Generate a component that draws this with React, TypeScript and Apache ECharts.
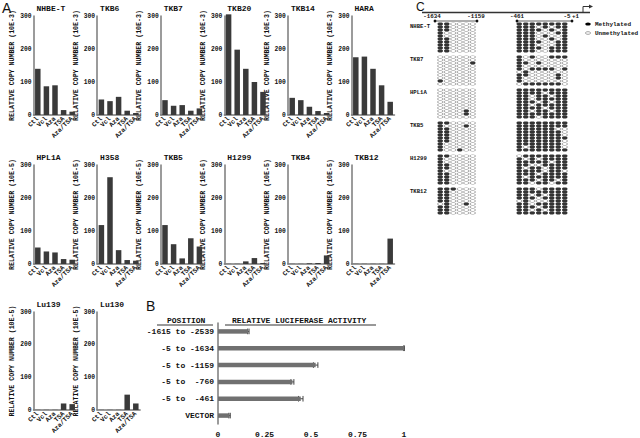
import React, { useEffect, useRef } from "react";
import * as echarts from "echarts";

// ---------- Panel A data ----------
const CATEGORIES = ["Ctl", "Vcl", "Aza", "TSA", "Aza/TSA"];
const NHBE_T = [140, 87, 90, 15, 10];
const TKB6 = [47, 42, 55, 13, 6];
const TKB7 = [45, 28, 30, 13, 20];
const TKB20 = [305, 198, 140, 100, 70];
const TKB14 = [52, 45, 25, 12, 6];
const HARA = [175, 177, 140, 90, 40];
const HPL1A = [50, 38, 35, 15, 13];
const H358 = [118, 263, 42, 12, 10];
const TKB5 = [118, 60, 17, 78, 53];
const H1299 = [0.5, 0.5, 8, 18, 3];
const TKB4 = [0.5, 0.5, 2, 3, 26];
const TKB12 = [0.5, 0.5, 0.5, 0.5, 77];
const LU139 = [0.5, 0.5, 0.5, 20, 18];
const LU130 = [0.5, 0.5, 0.5, 47, 20];
const CELL_NAMES = ["NHBE-T", "TKB6", "TKB7", "TKB20", "TKB14", "HARA", "HPL1A", "H358", "TKB5", "H1299", "TKB4", "TKB12", "Lu139", "Lu130"];
const CELL_UNITS = ["10E-3", "10E-3", "10E-3", "10E-3", "10E-3", "10E-3", "10E-5", "10E-5", "10E-5", "10E-6", "10E-5", "10E-5", "10E-5", "10E-5"];
const CELL_VALUES = [NHBE_T, TKB6, TKB7, TKB20, TKB14, HARA, HPL1A, H358, TKB5, H1299, TKB4, TKB12, LU139, LU130];
const COPY_MAX = 300;
const COPY_STEP = 100;

// ---------- Panel B data ----------
const POSITIONS = ["-1615 to -2539", "-5 to -1634", "-5 to -1159", "-5 to  -760", "-5 to  -461", "VECTOR"];
const LUCIFERASE = [0.163, 1.0, 0.525, 0.4, 0.445, 0.062];
const LUC_ERR = [0.004, 0.002, 0.012, 0.008, 0.012, 0.004];

// ---------- Panel C data ----------
const METH_SAMPLES = ["NHBE-T", "TKB7", "HPL1A", "TKB5", "H1299", "TKB12"];
const METH_LEFT = [
  ["110000", "110000", "110000", "100000", "100000", "110000", "110000", "110000", "110000", "110000"],
  ["000000", "000000", "000001", "000000", "000000", "000000", "000000", "000000", "100000", "000000"],
  ["000000", "000000", "000000", "000000", "000000", "000000", "000000", "000010", "000010", "000000"],
  ["110000", "100010", "110000", "110000", "110000", "110000", "110000", "100000", "100000", "100100"],
  ["110000", "100000", "100000", "110000", "110000", "100000", "110000", "110000", "110000", "110000"],
  ["111000", "110000", "110000", "110000", "110000", "010010", "110000", "110000", "110000"],
];
const METH_RIGHT = [
  ["11111111", "11101011", "11110101", "11100011", "11101001", "11100101", "11110011", "11100011", "11110111", "11100111"],
  ["10100111", "10000000", "11010000", "10000000", "10111101", "01000000", "11000010", "10000010", "10000000", "01111110"],
  ["11111111", "11110111", "11011011", "11011111", "11101011", "11011111", "11110111", "11011011", "11111111", "11101111"],
  ["11111111", "11111111", "11111100", "11111110", "11111110", "11111111", "11111110", "11111110", "10111110", "11111111"],
  ["01111111", "10101111", "11111011", "11001111", "10110111", "11110110", "11101111", "10111111", "11101101", "11011011"],
  ["11101111", "11111111", "11010111", "11101111", "01000111", "11011111", "11101111", "11010111", "11111111"],
];
const PROMOTER_MARKS = ["-1634", "-1159", "-461", "-5", "+1"];

const MONO = "Liberation Mono";
const SANS = "Liberation Sans";
const INK = "#111111";

function buildOption() {
  const grid: any[] = [];
  const xAxis: any[] = [];
  const yAxis: any[] = [];
  const series: any[] = [];
  const graphic: any[] = [];

  const ROW_TOP = [16, 165, 312];
  const ROW_H = [99, 99, 98];
  const COL_X0 = 33.5;
  const COL_STEP = 63.6;
  const GW = 43;

  CELL_NAMES.forEach((name, k) => {
    const r = Math.floor(k / 6);
    const c = k % 6;
    const left = COL_X0 + COL_STEP * c;
    grid.push({ left, top: ROW_TOP[r], width: GW, height: ROW_H[r] });
    xAxis.push({
      gridIndex: k,
      type: "category",
      data: CATEGORIES,
      axisLine: { show: true, lineStyle: { color: "#7a7a7a", width: 1.5 } },
      axisTick: { show: false },
      axisLabel: {
        interval: 0,
        rotate: 45,
        margin: 3,
        fontSize: 6.5,
        fontFamily: MONO,
        fontWeight: "bold",
        color: INK,
      },
    });
    yAxis.push({
      gridIndex: k,
      type: "value",
      min: 0,
      max: COPY_MAX,
      interval: COPY_STEP,
      axisLine: { show: true, lineStyle: { color: "#7a7a7a", width: 1.5 } },
      axisTick: { show: false },
      splitLine: { show: false },
      axisLabel: { margin: 2, fontSize: 6.3, fontFamily: MONO, fontWeight: "bold", color: INK },
      name: `RELATIVE COPY NUMBER (${CELL_UNITS[k]})`,
      nameLocation: "middle",
      nameRotate: 90,
      nameGap: 14,
      nameTextStyle: { fontSize: 6.6, fontFamily: MONO, fontWeight: "bold", color: INK },
    });
    series.push({
      type: "bar",
      xAxisIndex: k,
      yAxisIndex: k,
      data: CELL_VALUES[k],
      barWidth: 5.5,
      clip: false,
      itemStyle: { color: "#3a3a3a" },
    });
    graphic.push({
      type: "text",
      left: left + 3,
      top: ROW_TOP[r] - 12,
      style: { text: name, fontSize: 8, fontFamily: MONO, fontWeight: "bold", fill: INK },
    });
  });

  // ---------- Panel B ----------
  const bi = grid.length;
  grid.push({ left: 218, top: 323, width: 186, height: 102 });
  xAxis.push({
    gridIndex: bi,
    type: "value",
    min: 0,
    max: 1,
    interval: 0.25,
    axisLine: { show: false },
    axisTick: { show: false },
    splitLine: { show: false },
    axisLabel: { margin: 6, fontSize: 8, fontFamily: MONO, fontWeight: "bold", color: INK },
  });
  yAxis.push({
    gridIndex: bi,
    type: "category",
    inverse: true,
    data: POSITIONS,
    axisLine: { show: true, lineStyle: { color: "#7a7a7a", width: 1.5 } },
    axisTick: { show: false },
    axisLabel: { margin: 4, fontSize: 8, fontFamily: MONO, fontWeight: "bold", color: INK },
  });
  series.push({
    type: "bar",
    xAxisIndex: bi,
    yAxisIndex: bi,
    data: LUCIFERASE,
    barWidth: 4.5,
    itemStyle: { color: "#707070" },
  });
  series.push({
    type: "custom",
    xAxisIndex: bi,
    yAxisIndex: bi,
    data: LUCIFERASE.map((v, i) => [v, i, LUC_ERR[i]]),
    encode: { x: 0, y: 1 },
    renderItem: (params: any, api: any) => {
      const v = api.value(0);
      const c = api.value(1);
      const e = api.value(2);
      const a = api.coord([v - e, c]);
      const b = api.coord([v + e, c]);
      const h = 2.8;
      const st = { stroke: "#444", lineWidth: 1 };
      return {
        type: "group",
        children: [
          { type: "line", shape: { x1: a[0], y1: a[1], x2: b[0], y2: b[1] }, style: st },
          { type: "line", shape: { x1: a[0], y1: a[1] - h, x2: a[0], y2: a[1] + h }, style: st },
          { type: "line", shape: { x1: b[0], y1: b[1] - h, x2: b[0], y2: b[1] + h }, style: st },
        ],
      };
    },
  });
  graphic.push(
    { type: "text", left: 167, top: 316, style: { text: "POSITION", fontSize: 8, fontFamily: MONO, fontWeight: "bold", fill: INK } },
    { type: "line", shape: { x1: 157, y1: 325, x2: 213, y2: 325 }, style: { stroke: "#333", lineWidth: 1 } },
    { type: "text", left: 232, top: 316, style: { text: "RELATIVE LUCIFERASE ACTIVITY", fontSize: 8, fontFamily: MONO, fontWeight: "bold", fill: INK } },
    { type: "line", shape: { x1: 225, y1: 325, x2: 376, y2: 325 }, style: { stroke: "#333", lineWidth: 1 } }
  );

  // ---------- Panel C ----------
  const ROW_PX = 3;
  const C_TOP = 22.5;
  const SAMPLE_STRIDE = 11;
  const meth: number[][][] = [[], []];
  const unmeth: number[][][] = [[], []];
  let maxRow = 0;
  [METH_LEFT, METH_RIGHT].forEach((blocks, side) => {
    blocks.forEach((rows, s) => {
      rows.forEach((str, r) => {
        const y = s * SAMPLE_STRIDE + r;
        maxRow = Math.max(maxRow, y);
        str.split("").forEach((ch, col) => {
          (ch === "1" ? meth[side] : unmeth[side]).push([col, y]);
        });
      });
    });
  });
  const blockDefs = [
    { left: 437, cols: 6 },
    { left: 516, cols: 8 },
  ];
  blockDefs.forEach((bd, side) => {
    const gi = grid.length;
    grid.push({ left: bd.left, top: C_TOP, width: bd.cols * 6.5, height: (maxRow + 1) * ROW_PX });
    xAxis.push({ gridIndex: gi, type: "value", min: -0.5, max: bd.cols - 0.5, show: false });
    yAxis.push({ gridIndex: gi, type: "value", min: -0.5, max: maxRow + 0.5, inverse: true, show: false });
    series.push({
      type: "scatter",
      xAxisIndex: gi,
      yAxisIndex: gi,
      data: unmeth[side],
      symbol: "circle",
      symbolSize: [5.2, 2.6],
      itemStyle: { color: "#fff", borderColor: "#8a8a8a", borderWidth: 0.8 },
    });
    series.push({
      type: "scatter",
      xAxisIndex: gi,
      yAxisIndex: gi,
      data: meth[side],
      symbol: "circle",
      symbolSize: [5.6, 3.2],
      itemStyle: { color: "#000" },
    });
  });
  METH_SAMPLES.forEach((s, i) => {
    graphic.push({
      type: "text",
      left: 410,
      top: C_TOP + i * SAMPLE_STRIDE * ROW_PX + 1,
      style: { text: s, fontSize: 5.6, fontFamily: MONO, fontWeight: "bold", fill: INK },
    });
  });
  const markX = [432, 476, 517, 567, 575.5];
  PROMOTER_MARKS.forEach((m, i) => {
    graphic.push({
      type: "text",
      x: markX[i],
      y: 16.8,
      style: { text: m, fontSize: 5.8, fontFamily: MONO, fontWeight: "bold", fill: INK, align: "center", verticalAlign: "middle" },
    });
  });
  graphic.push(
    { type: "line", shape: { x1: 422, y1: 12.5, x2: 590, y2: 12.5 }, style: { stroke: "#333", lineWidth: 1.5 } },
    { type: "polyline", shape: { points: [[583, 12.5], [583, 6.5], [590, 6.5]] }, style: { stroke: "#333", lineWidth: 1, fill: null } },
    { type: "polygon", shape: { points: [[589, 4.5], [593, 6.5], [589, 8.5]] }, style: { fill: "#333" } },
    { type: "line", shape: { x1: 435, y1: 21, x2: 477, y2: 21 }, style: { stroke: "#333", lineWidth: 0.8 } },
    { type: "circle", shape: { cx: 435, cy: 21, r: 1.4 }, style: { fill: "#111" } },
    { type: "circle", shape: { cx: 477, cy: 21, r: 1.4 }, style: { fill: "#111" } },
    { type: "line", shape: { x1: 517, y1: 21, x2: 572, y2: 21 }, style: { stroke: "#333", lineWidth: 0.8 } },
    { type: "circle", shape: { cx: 517, cy: 21, r: 1.4 }, style: { fill: "#111" } },
    { type: "circle", shape: { cx: 572, cy: 21, r: 1.4 }, style: { fill: "#111" } },
    { type: "ellipse", shape: { cx: 588, cy: 24, rx: 2.8, ry: 1.6 }, style: { fill: "#000" } },
    { type: "text", left: 595, top: 21, style: { text: "Methylated", fontSize: 6, fontFamily: MONO, fontWeight: "bold", fill: INK } },
    { type: "ellipse", shape: { cx: 588, cy: 33, rx: 2.6, ry: 1.3 }, style: { fill: "#fff", stroke: "#8a8a8a", lineWidth: 0.8 } },
    { type: "text", left: 595, top: 30, style: { text: "Unmethylated", fontSize: 6, fontFamily: MONO, fontWeight: "bold", fill: INK } }
  );

  // panel letters
  graphic.push(
    { type: "text", left: 2, top: 1, style: { text: "A", fontSize: 14, fontFamily: SANS, fill: INK } },
    { type: "text", left: 146, top: 299, style: { text: "B", fontSize: 14, fontFamily: SANS, fill: INK } },
    { type: "text", left: 416, top: 1, style: { text: "C", fontSize: 12, fontFamily: SANS, fill: INK } }
  );

  return {
    animation: false,
    backgroundColor: "#fff",
    grid,
    xAxis,
    yAxis,
    series,
    graphic,
  };
}

export default function App() {
  const ref = useRef<HTMLDivElement>(null);
  useEffect(() => {
    if (!ref.current) return;
    const chart = echarts.init(ref.current, null, { renderer: "svg" });
    chart.setOption(buildOption() as any);
    return () => chart.dispose();
  }, []);
  return <div ref={ref} style={{ position: "fixed", left: 0, top: 0, width: 640, height: 438 }} />;
}
